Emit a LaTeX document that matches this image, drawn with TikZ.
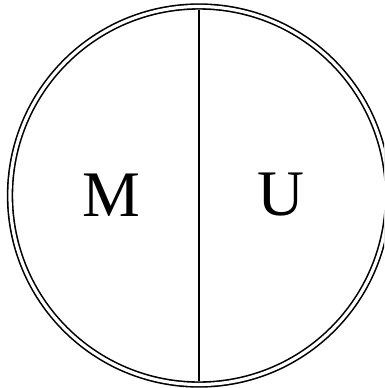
\documentclass[tikz,border=0pt]{standalone}
\usepackage{fontspec}
\setmainfont{Liberation Serif}
\usetikzlibrary{positioning}
\tikzset{
  ring/.style={circle,draw,line width=1.6pt,double,double distance=3.2pt,
    minimum size=378pt,inner sep=0pt,outer sep=0pt},
  half-label/.style={font=\fontsize{65}{78}\selectfont,inner sep=0pt},
  divider/.style={line width=1.6pt},
}
\begin{document}
\begin{tikzpicture}[x=1pt,y=-1pt]
  \useasboundingbox (0,0) rectangle (384,388);
  \clip (0,0) rectangle (384,388);
  \node[ring] (ring) at (199,195.5) {};
  \node[half-label] (m) at (111,195) {M};
  \node[half-label] (u) at (281,195) {U};
  \draw[divider,shorten <=3.5pt,shorten >=3.5pt] (ring.north) -- (ring.south);
\end{tikzpicture}
\end{document}
